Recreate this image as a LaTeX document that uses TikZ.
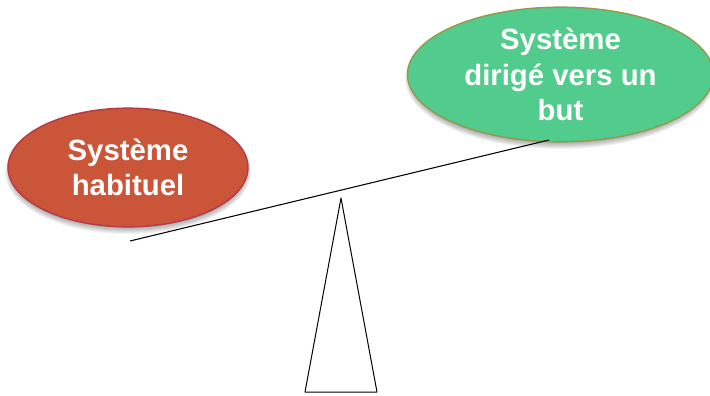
\documentclass[tikz,border=0pt]{standalone}
\usepackage{fontspec}
\setmainfont{Liberation Sans}
\definecolor{habitFill}{HTML}{CB5539}
\definecolor{habitLine}{HTML}{B73A48}
\definecolor{butFill}{HTML}{52CC8C}
\definecolor{butLine}{HTML}{8F9C50}
\tikzset{
    bulle/.style={ellipse, draw, line width=1.1pt, inner sep=0pt, align=center,
        text=white, font=\fontsize{22}{26.8}\selectfont\bfseries},
}
\usetikzlibrary{shapes.geometric}
\begin{document}
\begin{tikzpicture}[x=0.75pt, y=-0.75pt]
    \useasboundingbox (0,0) rectangle (710,396);

    % ombres
    \foreach \i in {0,...,7} {
        \fill[black, opacity=0.05] (128,172) ellipse ({123-\i} and {62-\i});
        \fill[black, opacity=0.05] (560,79) ellipse ({155-\i} and {70-\i});
    }

    \node[bulle, fill=habitFill, draw=habitLine, minimum width=180pt, minimum height=89pt] (habit) at (128,167.5) {Système\\habituel};
    \node[bulle, fill=butFill, draw=butLine, minimum width=229.5pt, minimum height=101pt] (but) at (560.5,74.5) {Système\\dirigé vers un\\but};

    \coordinate (fleauG) at (130,241);
    \coordinate (fleauD) at (549,140);
    \draw[line width=0.8pt] (fleauG) -- (fleauD);

    \coordinate (sommet) at (341,198);
    \coordinate (baseG) at (305,392);
    \coordinate (baseD) at (377,392);
    \draw[line width=0.75pt, line join=round] (sommet) -- (baseG) -- (baseD) -- cycle;
\end{tikzpicture}
\end{document}
